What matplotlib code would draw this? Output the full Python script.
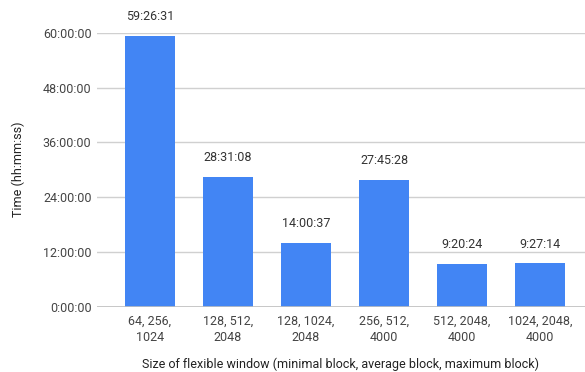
import matplotlib
matplotlib.use("Agg")
from matplotlib import pyplot as plt

# flexible window sizes (min, avg, max block)
windows = ['64, 256,\n1024', '128, 512,\n2048', '128, 1024,\n2048',
           '256, 512,\n4000', '512, 2048,\n4000', '1024, 2048,\n4000']
times = ['59:26:31', '28:31:08', '14:00:37', '27:45:28', '9:20:24', '9:27:14']

y_ticks = [0, 12, 24, 36, 48, 60]
y_tick_labels = ['0:00:00', '12:00:00', '24:00:00', '36:00:00', '48:00:00', '60:00:00']


def to_hours(t):
    h, m, s = t.split(':')
    return int(h) + int(m) / 60 + int(s) / 3600


hours = [to_hours(t) for t in times]

plt.rcParams['font.family'] = ['Roboto', 'DejaVu Sans']

fig = plt.figure(figsize=(5.85, 3.72), dpi=100)
ax = fig.add_axes([97 / 585, 65.5 / 372, 1 - 97 / 585, 273.5 / 372])

x = list(range(len(windows)))
ax.bar(x, hours, width=0.64, color='#4285f4', zorder=3)

for xi, h, t in zip(x, hours, times):
    ax.annotate(t, (xi, h), xytext=(0, 9), textcoords='offset points',
                ha='center', va='bottom', fontsize=9, color='#333333',
                annotation_clip=False)

ax.set_xlim(-0.68, 5.577)
ax.set_ylim(0, 60)
ax.set_yticks(y_ticks)
ax.set_yticklabels(y_tick_labels)
ax.set_xticks(x)
ax.set_xticklabels(windows, linespacing=1.3)

ax.grid(axis='y', color='#d0d0d0', linewidth=1, zorder=0)
for sp in ax.spines.values():
    sp.set_visible(False)
ax.axhline(0, color='#c0c0c0', linewidth=1.2, zorder=4)

ax.tick_params(axis='y', length=0, pad=4, labelsize=9, labelcolor='#444444')
ax.tick_params(axis='x', length=0, pad=6, labelsize=9, labelcolor='#444444')

ax.set_ylabel('Time (hh:mm:ss)', fontsize=9, color='#222222', labelpad=13)
ax.set_xlabel('Size of flexible window (minimal block, average block, maximum block)',
              fontsize=9, color='#222222', labelpad=10)

fig.savefig('out.png', dpi=100)
